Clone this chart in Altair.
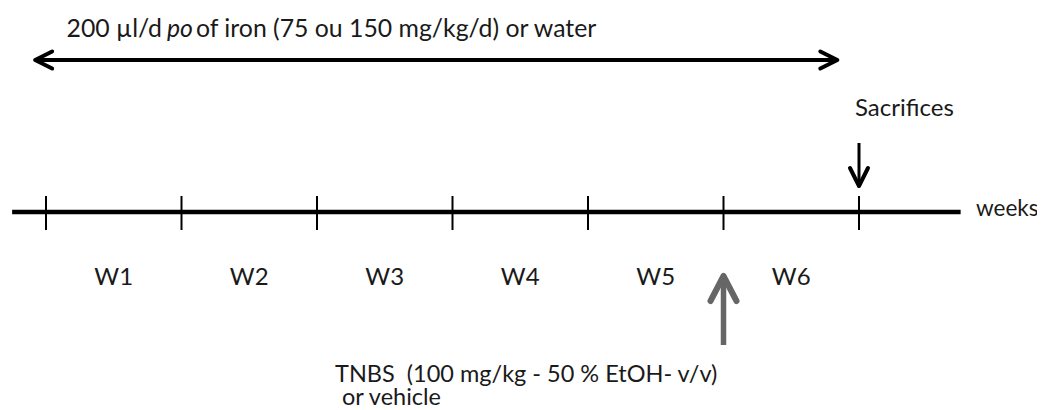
import altair as alt
import pandas as pd

# ---------------- data ----------------
week_ticks = [0, 1, 2, 3, 4, 5, 6]
week_labels = ["W1", "W2", "W3", "W4", "W5", "W6"]
week_label_pos = [0.5, 1.5, 2.5, 3.5, 4.5, 5.5]
timeline_span = [-0.25, 6.75]
treatment_span = [-0.08, 5.84]
treatment_text = ["200 µl/d", "po", "of iron (75 ou 150 mg/kg/d) or water"]
tnbs_week = 5
sacrifice_week = 6
tnbs_text = ["TNBS \u00a0(100 mg/kg - 50 % EtOH- v/v)", "or vehicle"]
sacrifice_text = "Sacrifices"
axis_text = "weeks"

# ---------------- layout ----------------
W, H = 1029, 402
PX_PER_WEEK = 135.5
X0 = 38  # plot-x of week 0
XMIN = -X0 / PX_PER_WEEK
XMAX = (W - X0) / PX_PER_WEEK


def wk(page_x):
    return (page_x - 46) / PX_PER_WEEK


FONT = "Lato"
FS = 24
TXT = "#1a1a1a"

xs = alt.Scale(domain=[XMIN, XMAX], nice=False, zero=False)
ys = alt.Scale(domain=[8, 8 + H], nice=False, zero=False, reverse=True)


def X(f="x"):
    return alt.X(f"{f}:Q", scale=xs, axis=None)


def Y(f="y"):
    return alt.Y(f"{f}:Q", scale=ys, axis=None)


# main timeline
timeline = alt.Chart(pd.DataFrame({"x": [timeline_span[0]], "x2": [timeline_span[1]], "y": [212]})).mark_rule(
    color="black", strokeWidth=4.5
).encode(x=X(), x2="x2:Q", y=Y())

# tick marks
ticks = alt.Chart(pd.DataFrame({"x": week_ticks, "y": [196] * 7, "y2": [230] * 7})).mark_rule(
    color="black", strokeWidth=2
).encode(x=X(), y=Y(), y2="y2:Q")

# week labels
wlabels = alt.Chart(pd.DataFrame({"x": week_label_pos, "y": [278] * 6, "t": week_labels})).mark_text(
    font=FONT, fontSize=FS, color=TXT, baseline="middle", align="center"
).encode(x=X(), y=Y(), text="t:N")

weeks_lbl = alt.Chart(pd.DataFrame({"x": [wk(976)], "y": [216], "t": [axis_text]})).mark_text(
    font=FONT, fontSize=22.5, color=TXT, baseline="alphabetic", align="left"
).encode(x=X(), y=Y(), text="t:N")

# treatment double arrow
treat_line = alt.Chart(pd.DataFrame({"x": [treatment_span[0] + 0.01], "x2": [treatment_span[1] - 0.01], "y": [60]})).mark_rule(
    color="black", strokeWidth=4
).encode(x=X(), x2="x2:Q", y=Y())

left_head = alt.Chart(pd.DataFrame({"x": [treatment_span[0]], "y": [60]})).mark_point(
    shape="M 1 -0.5 L 0 0 L 1 0.5", size=1156, filled=False, stroke="black", strokeWidth=4,
    opacity=1, strokeJoin="round", strokeCap="round"
).encode(x=X(), y=Y())

right_head = alt.Chart(pd.DataFrame({"x": [treatment_span[1]], "y": [60]})).mark_point(
    shape="M -1 -0.5 L 0 0 L -1 0.5", size=1156, filled=False, stroke="black", strokeWidth=4,
    opacity=1, strokeJoin="round", strokeCap="round"
).encode(x=X(), y=Y())

TFS = 24.8
t1 = alt.Chart(pd.DataFrame({"x": [wk(162)], "y": [30], "t": [treatment_text[0]]})).mark_text(
    font=FONT, fontSize=TFS, color=TXT, baseline="middle", align="right"
).encode(x=X(), y=Y(), text="t:N")
t2 = alt.Chart(pd.DataFrame({"x": [wk(167)], "y": [30], "t": [treatment_text[1]]})).mark_text(
    font=FONT, fontSize=TFS, fontStyle="italic", color=TXT, baseline="middle", align="left"
).encode(x=X(), y=Y(), text="t:N")
t3 = alt.Chart(pd.DataFrame({"x": [wk(196)], "y": [30], "t": [treatment_text[2]]})).mark_text(
    font=FONT, fontSize=TFS, color=TXT, baseline="middle", align="left"
).encode(x=X(), y=Y(), text="t:N")

# sacrifice arrow
sac_shaft = alt.Chart(pd.DataFrame({"x": [sacrifice_week], "y": [143], "y2": [186]})).mark_rule(
    color="black", strokeWidth=3
).encode(x=X(), y=Y(), y2="y2:Q")
sac_head = alt.Chart(pd.DataFrame({"x": [sacrifice_week], "y": [186]})).mark_point(
    shape="M -0.5 -1 L 0 0 L 0.5 -1", size=1296, filled=False, stroke="black", strokeWidth=4,
    opacity=1, strokeJoin="round", strokeCap="round"
).encode(x=X(), y=Y())
sac_text = alt.Chart(pd.DataFrame({"x": [wk(855)], "y": [109], "t": [sacrifice_text]})).mark_text(
    font=FONT, fontSize=FS, color=TXT, baseline="middle", align="left"
).encode(x=X(), y=Y(), text="t:N")

# TNBS arrow
tn_shaft = alt.Chart(pd.DataFrame({"x": [tnbs_week], "y": [277], "y2": [345]})).mark_rule(
    color="#666666", strokeWidth=5.5
).encode(x=X(), y=Y(), y2="y2:Q")
tn_head = alt.Chart(pd.DataFrame({"x": [tnbs_week], "y": [276]})).mark_point(
    shape="M -0.52 1 L 0 0 L 0.52 1", size=2500, filled=False, stroke="#666666", strokeWidth=6,
    opacity=1, strokeJoin="round", strokeCap="round"
).encode(x=X(), y=Y())
tn_text = alt.Chart(pd.DataFrame({"x": [wk(335), wk(342)], "y": [382, 405], "t": tnbs_text})).mark_text(
    font=FONT, fontSize=23.5, color=TXT, baseline="alphabetic", align="left"
).encode(x=X(), y=Y(), text="t:N")

chart = alt.layer(
    timeline, ticks, wlabels, weeks_lbl, treat_line, left_head, right_head, t1, t2, t3,
    sac_shaft, sac_head, sac_text, tn_shaft, tn_head, tn_text
).properties(width=W, height=H, padding=0, autosize=alt.AutoSizeParams(type="none")).configure_view(
    stroke=None
)

chart.save("out.html", embed_options={"renderer": "svg", "actions": False})
